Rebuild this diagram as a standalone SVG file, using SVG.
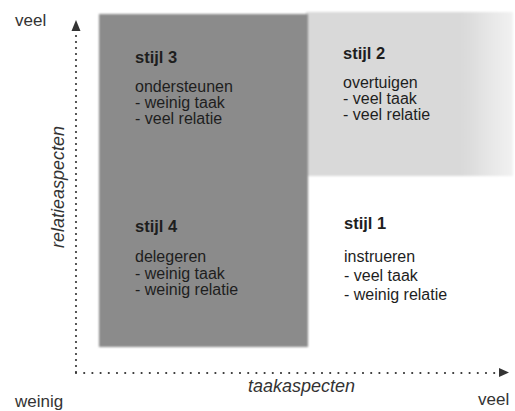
<svg xmlns="http://www.w3.org/2000/svg" width="515" height="411" viewBox="0 0 515 411">
<style>
.t{font-family:"Liberation Sans",Arial,sans-serif;fill:#1e1e1e}
.ax{font-family:"Liberation Sans",Arial,sans-serif;fill:#333;font-size:17px}
.it{font-style:italic;font-size:18px}
.h{font-weight:bold;font-size:16.5px}
.b{font-size:16px}
.dots{stroke:#333;stroke-width:2.2;stroke-linecap:round;fill:none}
</style>
<defs>
<linearGradient id="fadeR" x1="0" y1="0" x2="1" y2="0">
<stop offset="0.75" stop-color="#d9d9d9"/>
<stop offset="1" stop-color="#f2f2f2"/>
</linearGradient>
<filter id="soft" x="-5%" y="-5%" width="110%" height="110%"><feGaussianBlur stdDeviation="1"/></filter>
</defs>
<rect width="515" height="411" fill="#fff"/>
<g id="quadrant-2"><rect x="306" y="12" width="207" height="164" fill="url(#fadeR)" filter="url(#soft)"/></g>
<g id="quadrant-34"><rect x="99" y="14" width="209" height="333" fill="#8b8b8b" filter="url(#soft)"/></g>
<g id="connectors">
<line class="dots" x1="76" y1="372" x2="76" y2="32" stroke-dasharray="0 6"/>
<polygon points="76,20 71.5,31 80.5,31" fill="#333"/>
<line class="dots" x1="76" y1="373" x2="497" y2="373" stroke-dasharray="0 8.2"/>
<polygon points="509,372.5 499,368 499,377" fill="#333"/>
</g>
<g id="stijl3">
<text class="t h" x="135" y="63">stijl 3</text>
<text class="t b" x="135" y="92">ondersteunen</text>
<text class="t b" x="135" y="108">- weinig taak</text>
<text class="t b" x="135" y="124">- veel relatie</text>
</g>
<g id="stijl2">
<text class="t h" x="343" y="59">stijl 2</text>
<text class="t b" x="343" y="88">overtuigen</text>
<text class="t b" x="343" y="104">- veel taak</text>
<text class="t b" x="343" y="120">- veel relatie</text>
</g>
<g id="stijl4">
<text class="t h" x="135" y="232">stijl 4</text>
<text class="t b" x="135" y="262">delegeren</text>
<text class="t b" x="135" y="279">- weinig taak</text>
<text class="t b" x="135" y="295">- weinig relatie</text>
</g>
<g id="stijl1">
<text class="t h" x="344" y="229">stijl 1</text>
<text class="t b" x="344" y="262">instrueren</text>
<text class="t b" x="344" y="281">- veel taak</text>
<text class="t b" x="344" y="300">- weinig relatie</text>
</g>
<g id="labels">
<text class="ax" x="15" y="26">veel</text>
<text class="ax" x="15" y="407">weinig</text>
<text class="ax" x="478" y="405">veel</text>
<text class="ax it" x="248" y="392">taakaspecten</text>
<text class="ax it" transform="translate(64,187) rotate(-90)" text-anchor="middle">relatieaspecten</text>
</g>
</svg>
